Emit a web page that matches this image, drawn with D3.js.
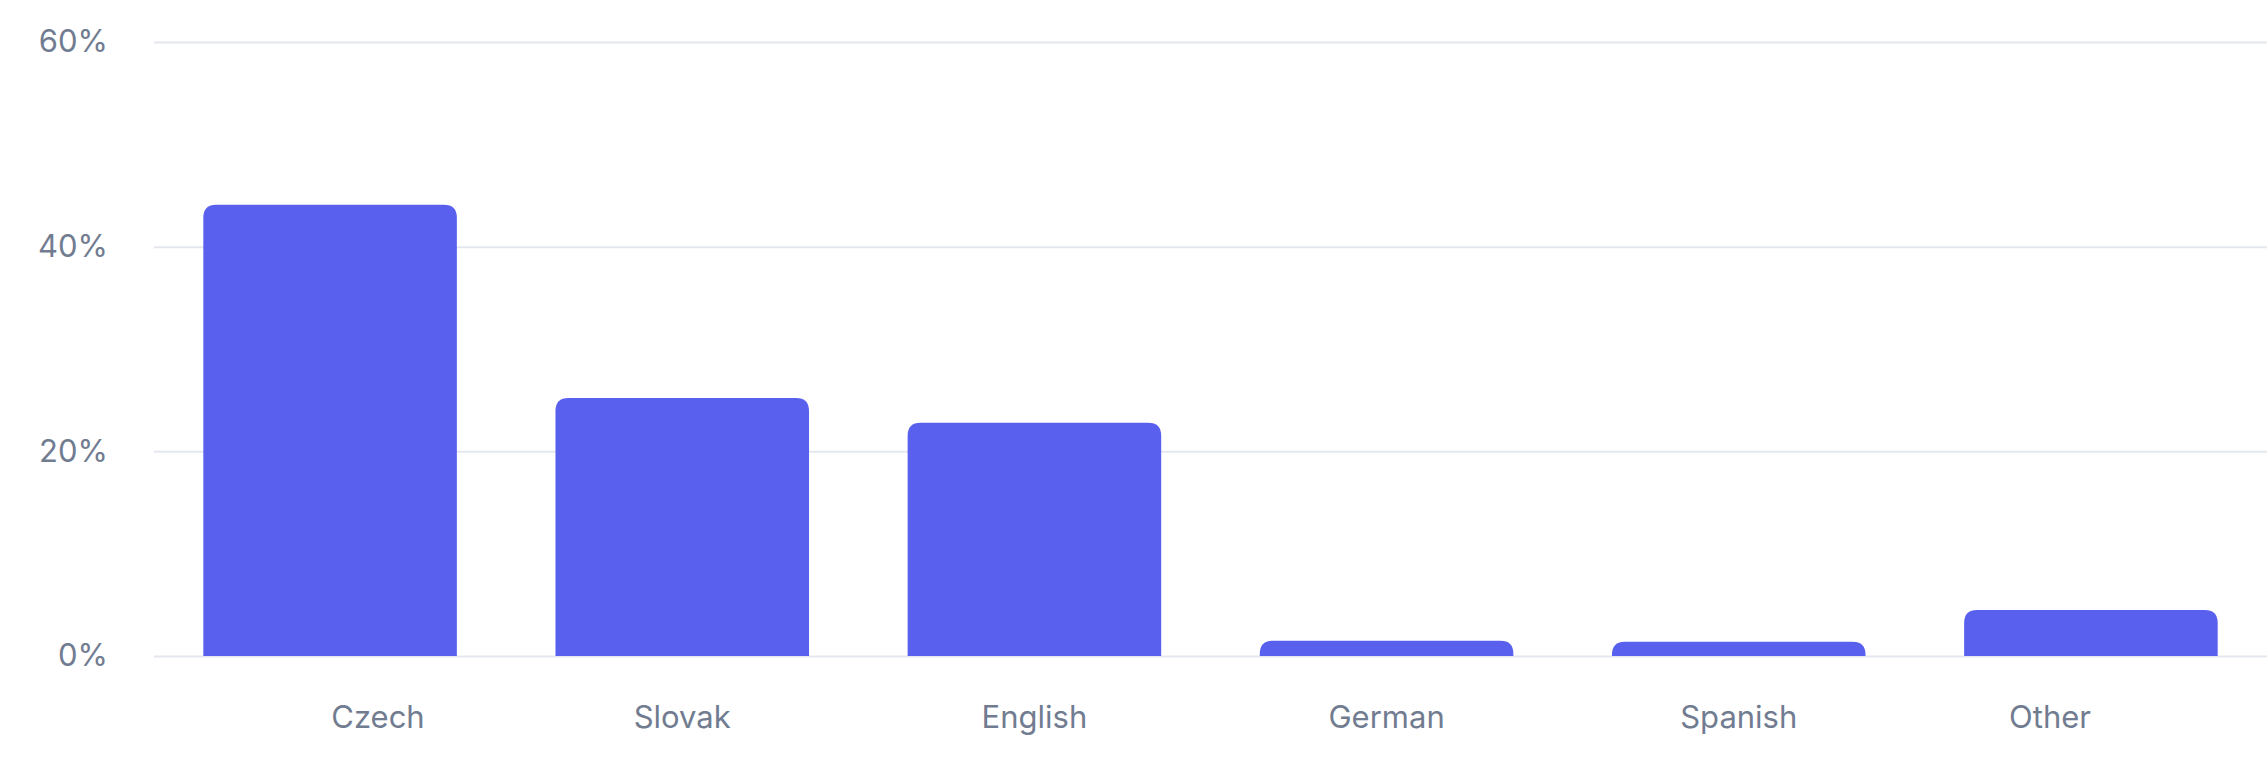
<html>
<head>
<script src="https://d3js.org/d3.v7.min.js"></script>
<style>
  body { margin: 0; background: #ffffff; }
  svg { display: block; }
  text { font-family: Inter, "Noto Sans", sans-serif; fill: #717c91; }
</style>
</head>
<body>
<svg width="2267" height="758"></svg>
<script>
// chart data
var languages = ["Czech", "Slovak", "English", "German", "Spanish", "Other"];
var shares = [44.1, 25.2, 22.8, 1.5, 1.4, 4.5];
var yTicks = [0, 20, 40, 60];

var svg = d3.select("svg");
var W = 2267, H = 758;
var mLeft = 154, mRight = 0, mTop = 42, mBottom = 102;

var x = d3.scaleBand().domain(languages)
  .range([mLeft, W - mRight])
  .paddingInner(0.28).paddingOuter(0.14);

var y = d3.scaleLinear().domain([0, 60]).range([H - mBottom, mTop]);

// grid lines + y labels
var yaxis = svg.append("g")
  .attr("transform", "translate(" + mLeft + ",0)")
  .call(d3.axisLeft(y).tickValues(yTicks).tickSize(-(W - mLeft - mRight)).tickPadding(46)
    .tickFormat(function(d) { return d + "%"; }));
yaxis.select(".domain").remove();
yaxis.selectAll(".tick line").attr("stroke", "#e4e8ee").attr("stroke-width", 2);
yaxis.selectAll(".tick text").style("font-size", "31px").attr("fill", "#717c91");

// bars with rounded top corners
function topRounded(x0, y0, w, h, r) {
  r = Math.min(r, h, w / 2);
  return "M" + x0 + "," + (y0 + h) +
    "V" + (y0 + r) +
    "Q" + x0 + "," + y0 + " " + (x0 + r) + "," + y0 +
    "H" + (x0 + w - r) +
    "Q" + (x0 + w) + "," + y0 + " " + (x0 + w) + "," + (y0 + r) +
    "V" + (y0 + h) + "Z";
}

svg.append("g").selectAll("path")
  .data(languages).enter().append("path")
  .attr("d", function(d, i) {
    var v = shares[i];
    return topRounded(x(d), y(v), x.bandwidth(), y(0) - y(v), 13);
  })
  .attr("fill", "#5a60ee");

// x labels (edge labels are kept inside the plot)
var xaxis = svg.append("g")
  .attr("transform", "translate(0," + (H - mBottom) + ")")
  .call(d3.axisBottom(x).tickSize(0).tickPadding(50));
xaxis.select(".domain").remove();
xaxis.selectAll(".tick")
  .attr("transform", function(d) {
    var cx = x(d) + x.bandwidth() / 2;
    cx = Math.max(mLeft + 224, Math.min(W - mRight - 217, cx));
    return "translate(" + cx + ",0)";
  });
xaxis.selectAll(".tick text").style("font-size", "31px").attr("fill", "#717c91");
</script>
</body>
</html>
